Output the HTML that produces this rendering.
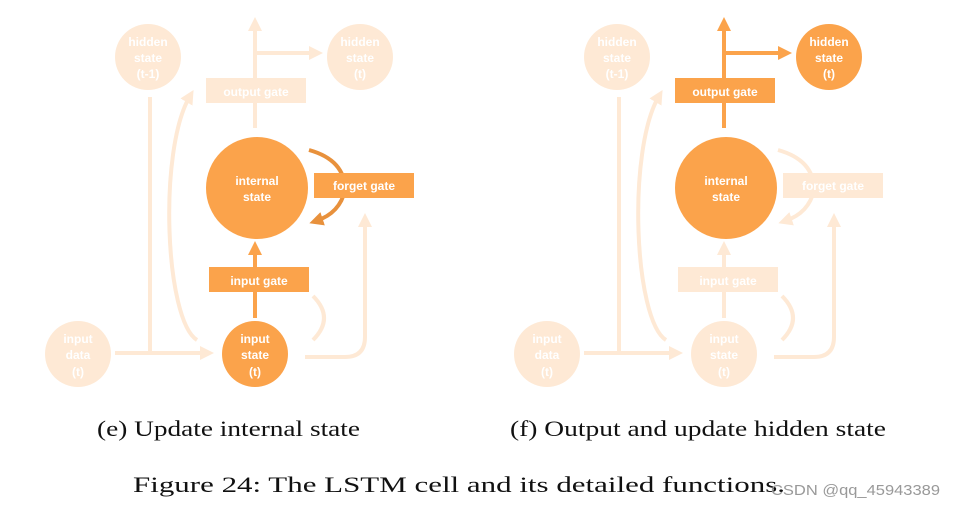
<!DOCTYPE html>
<html><head><meta charset="utf-8"><style>
body{margin:0;background:#fff;width:955px;height:508px;overflow:hidden}
svg{display:block}
.t{font-family:"Liberation Sans",sans-serif;font-size:12px;fill:#fff;text-anchor:middle;font-weight:bold}
.cap{font-family:"Liberation Serif",serif;font-size:22px;fill:#111}
</style></head><body>
<svg width="955" height="508" viewBox="0 0 955 508">
<defs>
<marker id="aF" markerWidth="3.5" markerHeight="3.5" refX="1.75" refY="1.75" orient="auto" markerUnits="strokeWidth"><path d="M0,0 L3.5,1.75 L0,3.5 Z" fill="#FEE9D5"/></marker>
<marker id="aD" markerWidth="3.5" markerHeight="3.5" refX="1.75" refY="1.75" orient="auto" markerUnits="strokeWidth"><path d="M0,0 L3.5,1.75 L0,3.5 Z" fill="#FBA34B"/></marker>
<marker id="aK" markerWidth="3.5" markerHeight="3.5" refX="1.75" refY="1.75" orient="auto" markerUnits="strokeWidth"><path d="M0,0 L3.5,1.75 L0,3.5 Z" fill="#E8913C"/></marker>
</defs>

<!-- Panel e -->
<g>
<g fill="#FEE9D5" stroke="none">
<circle cx="148" cy="57" r="33"/><circle cx="360" cy="57" r="33"/><circle cx="78" cy="354" r="33"/>
<rect x="206" y="78" width="100" height="25"/>
</g>
<g fill="none" stroke="#FEE9D5" stroke-width="4">
<path d="M255,128 V24" marker-end="url(#aF)"/>
<path d="M255,53 H316" marker-end="url(#aF)"/>
<path d="M150,97 V353"/>
<path d="M115,353 H207" marker-end="url(#aF)"/>
<path d="M197,340 C165,320 158,150 190,96" marker-end="url(#aF)"/>
<path d="M313,340 Q335,318 313,296"/>
<path d="M305,357 H345 Q365,357 365,337 V220" marker-end="url(#aF)"/>
</g>
<g fill="none" stroke="#FBA34B" stroke-width="4">
<path d="M255,318 V292"/>
<path d="M255,267 V248" marker-end="url(#aD)"/>
</g>
<path d="M309,150 Q345,160 345,190 Q340,213 316,221" fill="none" stroke="#E8913C" stroke-width="4" marker-end="url(#aK)"/>
<g fill="#FBA34B">
<circle cx="257" cy="188" r="51"/><circle cx="255" cy="354" r="33"/>
<rect x="314" y="173" width="100" height="25"/><rect x="209" y="267" width="100" height="25"/>
</g>
<text class="t" x="148" y="46">hidden</text><text class="t" x="148" y="62">state</text><text class="t" x="148" y="78">(t-1)</text>
<text class="t" x="360" y="46">hidden</text><text class="t" x="360" y="62">state</text><text class="t" x="360" y="78">(t)</text>
<text class="t" x="256" y="96">output gate</text>
<text class="t" x="257" y="185">internal</text><text class="t" x="257" y="201">state</text>
<text class="t" x="364" y="190">forget gate</text>
<text class="t" x="259" y="285">input gate</text>
<text class="t" x="255" y="343">input</text><text class="t" x="255" y="359">state</text><text class="t" x="255" y="376">(t)</text>
<text class="t" x="78" y="343">input</text><text class="t" x="78" y="359">data</text><text class="t" x="78" y="376">(t)</text>
</g>

<!-- Panel f -->
<g transform="translate(469,0)">
<g fill="#FEE9D5" stroke="none">
<circle cx="148" cy="57" r="33"/><circle cx="78" cy="354" r="33"/><circle cx="255" cy="354" r="33"/>
<rect x="314" y="173" width="100" height="25"/><rect x="209" y="267" width="100" height="25"/>
</g>
<g fill="none" stroke="#FEE9D5" stroke-width="4">
<path d="M150,97 V353"/>
<path d="M115,353 H207" marker-end="url(#aF)"/>
<path d="M197,340 C165,320 158,150 190,96" marker-end="url(#aF)"/>
<path d="M313,340 Q335,318 313,296"/>
<path d="M305,357 H345 Q365,357 365,337 V220" marker-end="url(#aF)"/>
<path d="M255,318 V248" marker-end="url(#aF)"/>
<path d="M309,150 Q345,160 345,190 Q340,213 316,221" marker-end="url(#aF)"/>
</g>
<g fill="none" stroke="#FBA34B" stroke-width="4">
<path d="M255,128 V24" marker-end="url(#aD)"/>
<path d="M255,53 H316" marker-end="url(#aD)"/>
</g>
<g fill="#FBA34B">
<circle cx="360" cy="57" r="33"/><circle cx="257" cy="188" r="51"/>
<rect x="206" y="78" width="100" height="25"/>
</g>
<text class="t" x="148" y="46">hidden</text><text class="t" x="148" y="62">state</text><text class="t" x="148" y="78">(t-1)</text>
<text class="t" x="360" y="46">hidden</text><text class="t" x="360" y="62">state</text><text class="t" x="360" y="78">(t)</text>
<text class="t" x="256" y="96">output gate</text>
<text class="t" x="257" y="185">internal</text><text class="t" x="257" y="201">state</text>
<text class="t" x="364" y="190">forget gate</text>
<text class="t" x="259" y="285">input gate</text>
<text class="t" x="255" y="343">input</text><text class="t" x="255" y="359">state</text><text class="t" x="255" y="376">(t)</text>
<text class="t" x="78" y="343">input</text><text class="t" x="78" y="359">data</text><text class="t" x="78" y="376">(t)</text>
</g>

<text class="cap" x="97" y="436" textLength="263" lengthAdjust="spacingAndGlyphs">(e) Update internal state</text>
<text class="cap" x="510" y="436" textLength="376" lengthAdjust="spacingAndGlyphs">(f) Output and update hidden state</text>
<text class="cap" x="133" y="492" font-size="24" textLength="652" lengthAdjust="spacingAndGlyphs">Figure 24: The LSTM cell and its detailed functions.</text>
<text x="771" y="495" font-family="Liberation Sans,sans-serif" font-size="15" fill="#999" textLength="169" lengthAdjust="spacingAndGlyphs">CSDN @qq_45943389</text>
</svg>
</body></html>
